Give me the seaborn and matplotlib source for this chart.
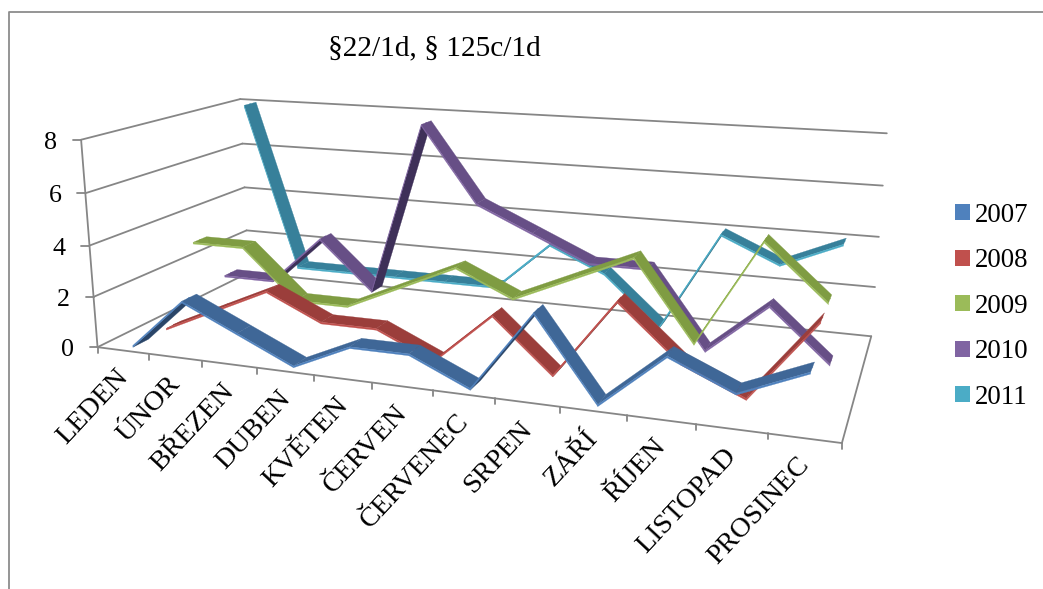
import numpy as np
import pandas as pd
import matplotlib
matplotlib.use("Agg")
import matplotlib.pyplot as plt
from matplotlib.patches import Patch
import seaborn as sns

months = ["LEDEN", "ÚNOR", "BŘEZEN", "DUBEN", "KVĚTEN", "ČERVEN", "ČERVENEC",
          "SRPEN", "ZÁŘÍ", "ŘÍJEN", "LISTOPAD", "PROSINEC"]
years = ["2007", "2008", "2009", "2010", "2011"]
v2007 = [0, 2, 1, 0, 1, 1, 0, 3, 0, 2, 1, 2]
v2008 = [0, 1, 2, 1, 1, 0, 2, 0, 3, 1, 0, 3]
v2009 = [3, 3, 1, 1, 2, 3, 2, 3, 4, 1, 5, 3]
v2010 = [1, 1, 3, 1, 8, 5, 4, 3, 3, 0, 2, 0]
v2011 = [8, 1, 1, 1, 1, 1, 3, 2, 0, 4, 3, 4]
y_ticks = [0, 2, 4, 6, 8]
title = "§22/1d, § 125c/1d"

legend_colors = ["#4F81BD", "#C0504D", "#9BBB59", "#8064A2", "#4BACC6"]
top_colors = ["#3F6797", "#9B3E3B", "#7F9C42", "#674F86", "#37809A"]
under_colors = ["#2A4568", "#6B2B29", "#5B7530", "#3E3058", "#27677C"]
GRID = "#868686"
FONT = "Liberation Serif"

sns.set_theme(style="white")
plt.rcParams["font.family"] = [FONT, "DejaVu Sans"]

# Camera: a 3x4 projection fitted to the box edges (x: 0..1, value: 0..8, z: front 0..back 1)
front_ticks = [98, 148, 202, 257, 313, 372, 433, 495, 560, 627, 697, 767, 841]
front_ticks_y = [346, 353, 361, 368, 375, 385, 392, 399, 408, 415, 425, 433, 441]
anchors = [(i / 12, 0, 0, px, py) for i, (px, py) in enumerate(zip(front_ticks, front_ticks_y))]
anchors += [(0, 8, 0, 82, 140), (0, 6, 0, 85, 193), (0, 4, 0, 90, 244), (0, 2, 0, 94, 296),
            (0, 8, 1, 240, 99), (0, 6, 1, 242, 144), (0, 4, 1, 243, 188), (0, 2, 1, 247, 230),
            (0, 0, 1, 250, 273),
            (1, 8, 1, 887, 134), (1, 6, 1, 883, 185), (1, 4, 1, 879, 237), (1, 2, 1, 875, 287),
            (1, 0, 1, 871, 335)]
rows, rhs = [], []
for x, y, z, u, v in anchors:
    rows.append([x, y, z, 1, 0, 0, 0, 0, -u * x, -u * y, -u * z])
    rows.append([0, 0, 0, 0, x, y, z, 1, -v * x, -v * y, -v * z])
    rhs += [u, v]
coef = np.linalg.lstsq(np.array(rows, float), np.array(rhs, float), rcond=None)[0]
camera = np.append(coef, 1.0).reshape(3, 4)


def project(x, y, z):
    p = camera @ np.array([x, y, z, 1.0])
    return p[0] / p[2], p[1] / p[2]


def quad_area(pts):
    xs, ys = np.array(pts).T
    return 0.5 * np.sum(xs * np.roll(ys, -1) - np.roll(xs, -1) * ys)


fig = plt.figure(figsize=(10.43, 5.89), dpi=100)
ax = fig.add_axes([0, 0, 1, 1])
ax.set_xlim(0, 1043)
ax.set_ylim(589, 0)
ax.axis("off")


def edge(p, q, lw=1.3, color=GRID, zorder=1):
    a, b = project(*p), project(*q)
    sns.lineplot(x=[a[0], b[0]], y=[a[1], b[1]], color=color, lw=lw, sort=False,
                 estimator=None, ax=ax, zorder=zorder, legend=False)


# Chart frame: only the top and left borders fall inside the canvas
ax.plot([8.5, 8.5, 1043], [589, 12, 12], color="#8C8C8C", lw=1.3, zorder=0)

# Walls and floor
for tick in y_ticks:
    edge((0, tick, 0), (0, tick, 1))
    edge((0, tick, 1), (1, tick, 1))
    px, py = project(0, tick, 0)
    ax.plot([px - 8, px], [py, py], color=GRID, lw=1.3, zorder=1)
    ax.annotate(str(tick), (px, py), xytext=(-24 * 0.72, -3 * 0.72), textcoords="offset points",
                ha="right", va="center", fontsize=18.7, color="black", family=FONT)
edge((0, 0, 0), (0, 8, 0))
edge((0, 0, 0), (1, 0, 0))
edge((1, 0, 0), (1, 0, 1))
for i in range(13):
    px, py = project(i / 12, 0, 0)
    ax.plot([px, px], [py, py + 6], color=GRID, lw=1.3, zorder=1)

# Month labels
for i, name in enumerate(months):
    px, py = project((i + 0.5) / 12, 0, 0)
    ax.annotate(name, (px, py), xytext=(1 * 0.72, -23 * 0.72), textcoords="offset points",
                ha="right", va="center", rotation=47, rotation_mode="anchor",
                fontsize=20.3, color="black", family=FONT)

# Ribbons, painted back to front
series = [v2007, v2008, v2009, v2010, v2011]
half_depth = 0.045
thickness = 0.07
for k in range(4, -1, -1):
    values = series[k]
    zc = (k + 0.5) / 5
    zf, zb = zc - half_depth, zc + half_depth
    base = 10 + (4 - k) * 10
    xs = [(i + 0.5) / 12 for i in range(12)]
    pts = [project(x, v, zc) for x, v in zip(xs, values)]
    frame = pd.DataFrame({"px": [p[0] for p in pts], "py": [p[1] for p in pts]})
    sns.lineplot(data=frame, x="px", y="py", color=legend_colors[k], lw=0.8, sort=False,
                 estimator=None, ax=ax, zorder=base, legend=False)
    for i in range(11):
        x0, x1, y0, y1 = xs[i], xs[i + 1], values[i], values[i + 1]
        top = [project(x0, y0, zf), project(x1, y1, zf), project(x1, y1, zb), project(x0, y0, zb)]
        low = [project(x0, y0 - thickness, zf), project(x1, y1 - thickness, zf),
               project(x1, y1 - thickness, zb), project(x0, y0 - thickness, zb)]
        face = [top[0], top[1], low[1], low[0]]
        z = base + 0.01 * i
        # In y-down canvas space the upper surface winds clockwise on screen when it faces the camera
        if quad_area(top) < 0:
            ax.fill(*zip(*top), facecolor=top_colors[k], edgecolor=top_colors[k], lw=0.2, zorder=z + 0.002)
        else:
            ax.fill(*zip(*low), facecolor=under_colors[k], edgecolor=under_colors[k], lw=0.2, zorder=z + 0.002)
        ax.fill(*zip(*face), facecolor=legend_colors[k], edgecolor=legend_colors[k], lw=0.2, zorder=z + 0.003)

ax.text(434, 48, title, ha="center", va="center", fontsize=21.2, color="black", family=FONT)

handles = [Patch(facecolor=c, edgecolor="none", label=y) for c, y in zip(legend_colors, years)]
ax.legend(handles=handles, loc="upper left", bbox_to_anchor=(955, 203), bbox_transform=ax.transData,
          frameon=False, fontsize=19.4, handlelength=0.54, handleheight=0.54, handletextpad=0.2,
          labelspacing=0.76, borderpad=0, borderaxespad=0, labelcolor="black")

fig.savefig("out.png", dpi=100)
